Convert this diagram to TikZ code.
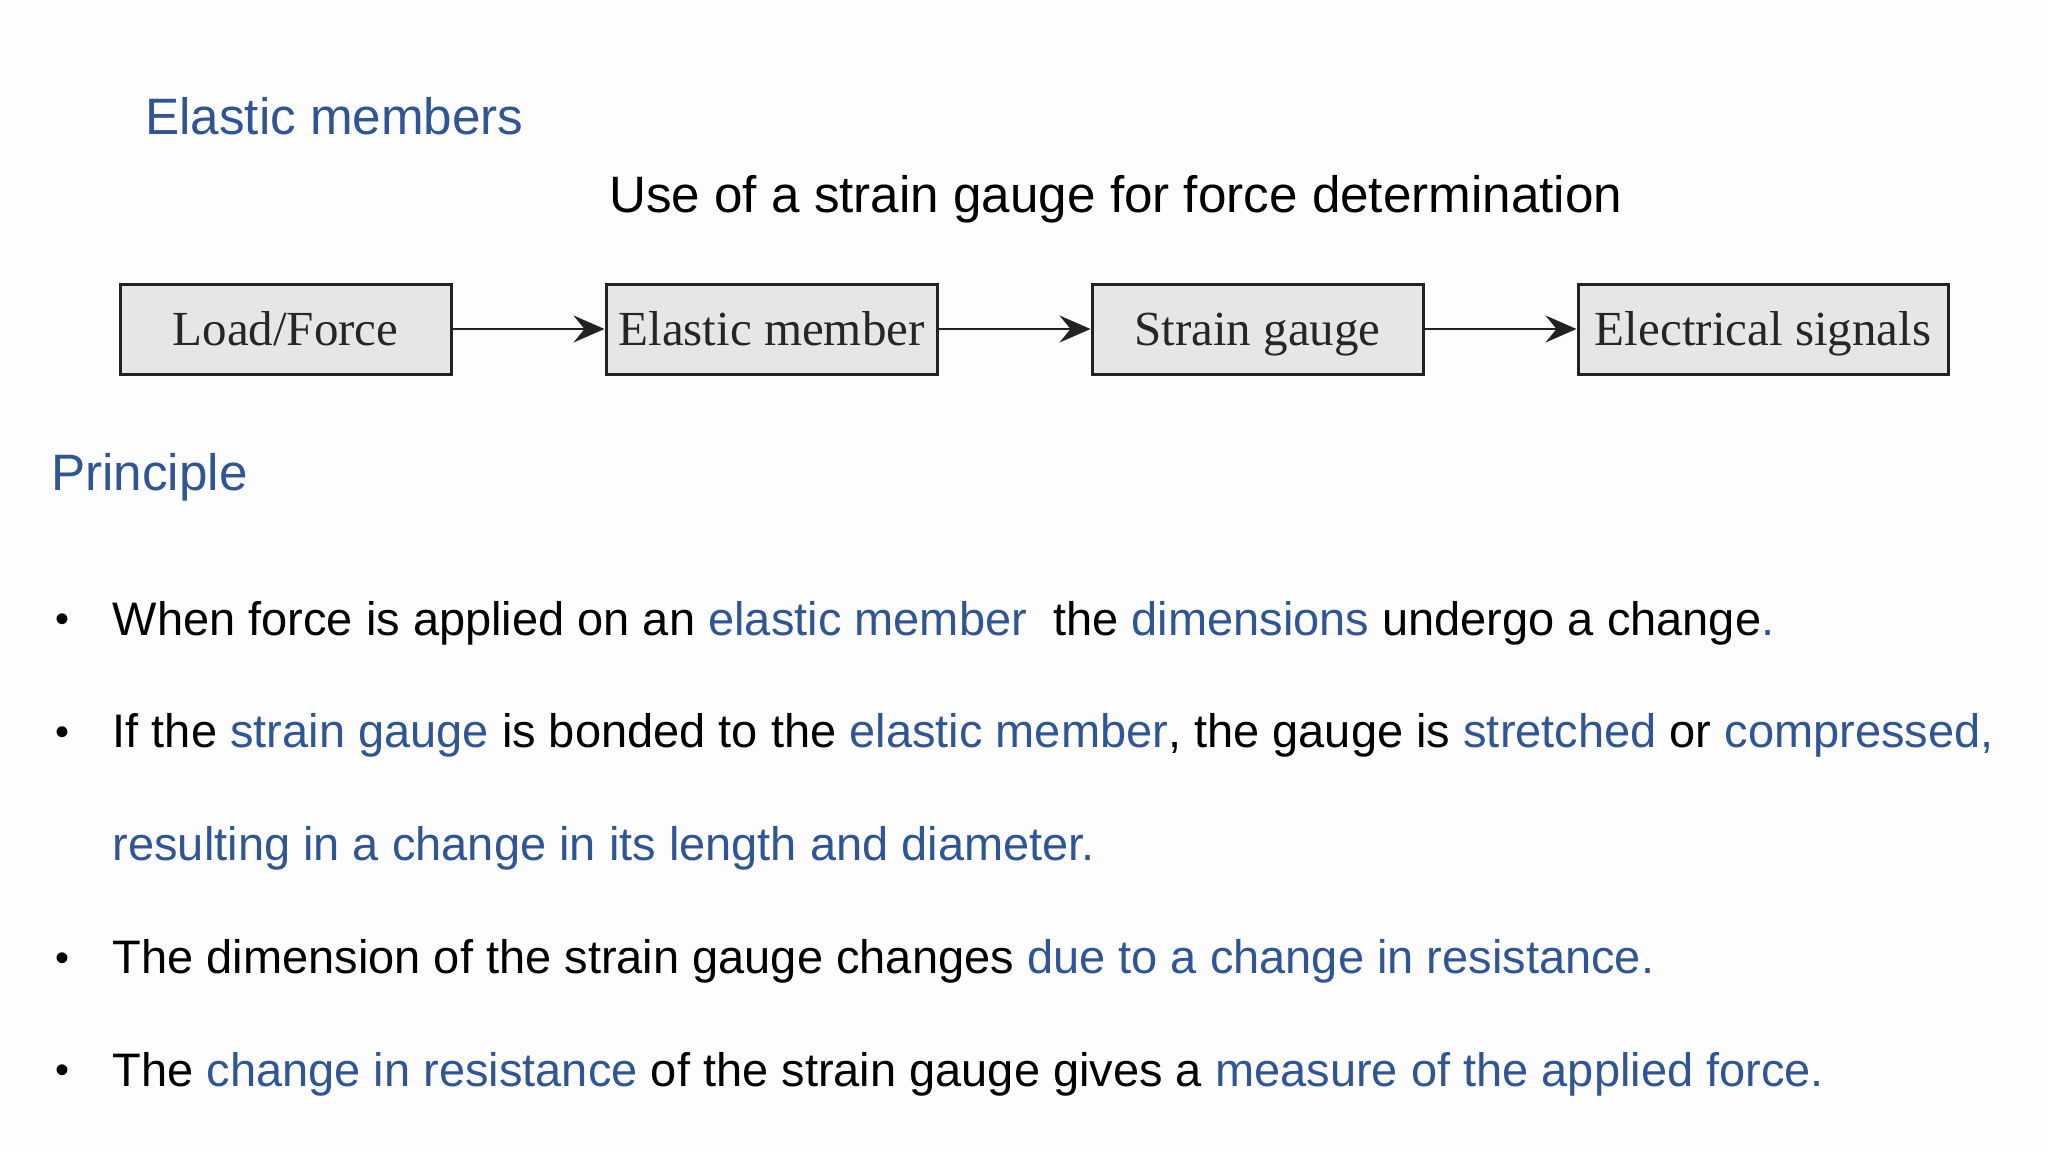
\documentclass[tikz,border=0pt]{standalone}
\usepackage{fontspec}
\setmainfont{Liberation Sans}
\newfontfamily\boxfont{Liberation Serif}
\usetikzlibrary{arrows.meta,positioning}
\definecolor{slideblue}{HTML}{2F5597}
\definecolor{boxgray}{HTML}{E6E6E8}
\definecolor{boxline}{HTML}{222222}
\definecolor{slidepaper}{HTML}{FDFDFE}
\newcommand{\hl}[1]{\textcolor{slideblue}{#1}}
\begin{document}
\begin{tikzpicture}[x=1pt, y=-1pt,
		block/.style={draw=boxline, line width=3pt, fill=boxgray, minimum height=90pt, minimum width=331pt, inner sep=0pt, text height=42pt, text depth=10pt, font=\boxfont\fontsize{49}{52}\selectfont, text=black!85},
		heading/.style={anchor=base west, inner sep=0pt, font=\fontsize{51.2}{60}\selectfont},
		bodytext/.style={anchor=base west, inner sep=0pt, font=\fontsize{47}{56}\selectfont},
		dot/.style={anchor=base, inner sep=0pt, font=\fontsize{40}{50}\selectfont},
		link/.style={draw=boxline, line width=2.5pt, -{Stealth[length=31pt, width=27pt, inset=11pt]}},
	]
		\fill[slidepaper] (0,0) rectangle (2048,1152);
		\useasboundingbox (0,0) rectangle (2048,1152);
		\node (elastic) [heading, text=slideblue] at (145,134) {Elastic members};
		\node (title) [heading] at (609,212) {Use of a strain gauge for force determination};
		
		\node (load) [block] at (285.5,329) {Load/Force};
		\node (member) [block, right=152pt of load] {Elastic member};
		\node (gauge) [block, right=152pt of member] {Strain gauge};
		\node (signals) [block, right=152pt of gauge, minimum width=370pt] {Electrical signals};
		
		\node (principle) [heading, text=slideblue] at (51,490) {Principle};
		
		\node (line1) [bodytext] at (112.5,635) {When force is applied on an \hl{elastic member}\ \ the \hl{dimensions} undergo a change\hl{.}};
		\node (line2) [bodytext] at (112.5,747.5) {If the \hl{strain gauge} is bonded to the \hl{elastic member}, the gauge is \hl{stretched} or \hl{compressed,}};
		\node (line3) [bodytext] at (112.5,860.5) {\hl{resulting in a change in its length and diameter.}};
		\node (line4) [bodytext] at (112.5,973.5) {The dimension of the strain gauge changes \hl{due to a change in resistance.}};
		\node (line5) [bodytext] at (112.5,1086) {The \hl{change in resistance} of the strain gauge gives a \hl{measure of the applied force.}};
		
		\node (dot1) [dot] at (63,632) {•};
		\node (dot2) [dot] at (63,745) {•};
		\node (dot4) [dot] at (63,971) {•};
		\node (dot5) [dot] at (63,1083) {•};
		
		\draw[link] (load) -- (member);
		\draw[link] (member) -- (gauge);
		\draw[link] (gauge) -- (signals);
	\end{tikzpicture}
\end{document}
